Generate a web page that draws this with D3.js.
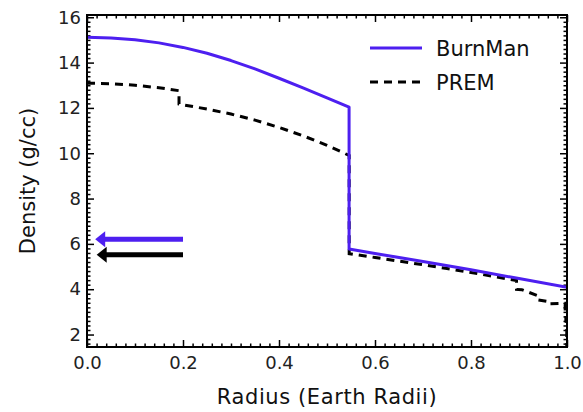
<!DOCTYPE html>
<html>
<head>
<meta charset="utf-8">
<script src="https://cdn.jsdelivr.net/npm/d3@7"></script>
<style>
  html, body { margin: 0; padding: 0; background: #fff; }
  svg { display: block; font-family: "DejaVu Sans", sans-serif; }
</style>
</head>
<body>
<svg id="chart" width="583" height="412"></svg>
<script>
// ---- data ----
const burnmanRadius = [0, 0.05, 0.1, 0.15, 0.2, 0.25, 0.3, 0.35, 0.4, 0.45, 0.5, 0.546,
                       0.546, 0.6, 0.7, 0.8, 0.9, 1.0];
const burnmanDensity = [15.12, 15.09, 15.01, 14.87, 14.67, 14.41, 14.09, 13.72, 13.31, 12.88, 12.44, 12.03,
                        5.77, 5.58, 5.22, 4.86, 4.47, 4.08];

const premRadius = [0, 0.05, 0.1, 0.15, 0.1917,
                    0.1917, 0.25, 0.3, 0.35, 0.4, 0.45, 0.5, 0.5462,
                    0.5462, 0.6, 0.65, 0.7, 0.75, 0.8, 0.85, 0.8948,
                    0.8948, 0.9058, 0.9372,
                    0.9372, 0.9655,
                    0.9655, 0.9962,
                    0.9962, 0.9976,
                    0.9976, 0.9995,
                    0.9995, 1.0];
const premDensity = [13.09, 13.07, 13.00, 12.89, 12.76,
                     12.17, 11.95, 11.73, 11.46, 11.14, 10.77, 10.35, 9.90,
                     5.57, 5.40, 5.24, 5.08, 4.91, 4.74, 4.55, 4.38,
                     3.99, 3.98, 3.73,
                     3.54, 3.44,
                     3.36, 3.38,
                     2.90, 2.90,
                     2.60, 2.60,
                     1.02, 1.02];

const seriesNames = ["BurnMan", "PREM"];
const meanDensity = [6.21, 5.52];         // arrows: BurnMan, PREM
const arrowStart = 0.2, arrowTip = 0.017;

const xTicks = [0.0, 0.2, 0.4, 0.6, 0.8, 1.0];
const yTicks = [2, 4, 6, 8, 10, 12, 14, 16];

const xLabel = "Radius (Earth Radii)";
const yLabel = "Density (g/cc)";

// ---- layout ----
const blue = "#4d1ff0";
const L = 87, R = 567, T = 15, B = 347;
const svg = d3.select("#chart");
const x = d3.scaleLinear().domain([0, 1]).range([L, R]);
const y = d3.scaleLinear().domain([1.45, 16.1]).range([B, T]);

const xMinor = d3.range(0, 1.0001, 0.02).map(v => +v.toFixed(2)).filter(v => !xTicks.some(t => Math.abs(t - v) < 1e-6));
const yMinor = d3.range(1.6, 16.0001, 0.2).map(v => +v.toFixed(1)).filter(v => !yTicks.some(t => Math.abs(t - v) < 1e-6));

function styleAxis(g) {
  g.select(".domain").remove();
  g.selectAll(".tick line").attr("stroke", "#000").attr("stroke-width", 1.5);
  g.selectAll(".tick text").attr("font-size", 18).attr("fill", "#222").attr("font-family", "DejaVu Sans, sans-serif");
}

// bottom
svg.append("g").attr("transform", `translate(0,${B})`)
  .call(d3.axisBottom(x).tickValues(xTicks).tickFormat(d3.format(".1f")).tickSize(-7).tickPadding(9)).call(styleAxis);
svg.append("g").attr("transform", `translate(0,${B})`)
  .call(d3.axisBottom(x).tickValues(xMinor).tickFormat("").tickSize(-3.5)).call(styleAxis);
// top
svg.append("g").attr("transform", `translate(0,${T})`)
  .call(d3.axisTop(x).tickValues(xTicks).tickFormat("").tickSize(-7)).call(styleAxis);
svg.append("g").attr("transform", `translate(0,${T})`)
  .call(d3.axisTop(x).tickValues(xMinor).tickFormat("").tickSize(-3.5)).call(styleAxis);
// left
svg.append("g").attr("transform", `translate(${L},0)`)
  .call(d3.axisLeft(y).tickValues(yTicks).tickFormat(d3.format("d")).tickSize(-7).tickPadding(6)).call(styleAxis);
svg.append("g").attr("transform", `translate(${L},0)`)
  .call(d3.axisLeft(y).tickValues(yMinor).tickFormat("").tickSize(-3.5)).call(styleAxis);
// right
svg.append("g").attr("transform", `translate(${R},0)`)
  .call(d3.axisRight(y).tickValues(yTicks).tickFormat("").tickSize(-7)).call(styleAxis);
svg.append("g").attr("transform", `translate(${R},0)`)
  .call(d3.axisRight(y).tickValues(yMinor).tickFormat("").tickSize(-3.5)).call(styleAxis);

// clip
svg.append("clipPath").attr("id", "plotclip")
  .append("rect").attr("x", L).attr("y", T).attr("width", R - L).attr("height", B - T);

const line = d3.line().x(d => x(d[0])).y(d => y(d[1]));
const plot = svg.append("g").attr("clip-path", "url(#plotclip)");

plot.append("path")
  .datum(premRadius.map((r, i) => [r, premDensity[i]]))
  .attr("d", line).attr("fill", "none").attr("stroke", "#000")
  .attr("stroke-width", 3).attr("stroke-dasharray", "8,6");

plot.append("path")
  .datum(burnmanRadius.map((r, i) => [r, burnmanDensity[i]]))
  .attr("d", line).attr("fill", "none").attr("stroke", blue)
  .attr("stroke-width", 3).attr("stroke-linejoin", "round");

// arrows
const arrowColors = [blue, "#000"];
meanDensity.forEach((v, i) => {
  const yy = y(v), xt = x(arrowTip) + (i === 1 ? 1.5 : 0);
  plot.append("line").attr("x1", x(arrowStart)).attr("x2", xt + 8).attr("y1", yy).attr("y2", yy)
    .attr("stroke", arrowColors[i]).attr("stroke-width", 5);
  plot.append("path")
    .attr("d", `M${xt},${yy} L${xt + 10},${yy - 8} L${xt + 10},${yy + 8} Z`)
    .attr("fill", arrowColors[i]);
});

// frame
svg.append("rect").attr("x", L).attr("y", T).attr("width", R - L).attr("height", B - T)
  .attr("fill", "none").attr("stroke", "#000").attr("stroke-width", 2);

// legend
const legend = svg.append("g");
const legY = [48, 82];
seriesNames.forEach((name, i) => {
  legend.append("line").attr("x1", 370).attr("x2", 422).attr("y1", legY[i]).attr("y2", legY[i])
    .attr("stroke", i === 0 ? blue : "#000").attr("stroke-width", 3)
    .attr("stroke-dasharray", i === 0 ? null : "8,6");
  legend.append("text").attr("x", 436).attr("y", legY[i] + 7.5)
    .attr("font-size", 21).attr("fill", "#111").text(name);
});

// axis titles
svg.append("text").attr("x", (L + R) / 2).attr("y", 404).attr("text-anchor", "middle")
  .attr("font-size", 21).attr("letter-spacing", 0.6).attr("fill", "#111").text(xLabel);
svg.append("text").attr("transform", `translate(35,${(T + B) / 2}) rotate(-90)`)
  .attr("text-anchor", "middle").attr("font-size", 21).attr("fill", "#111").text(yLabel);
</script>
</body>
</html>
